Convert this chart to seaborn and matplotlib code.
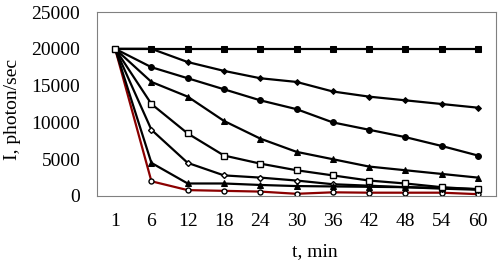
import matplotlib
matplotlib.use("Agg")
import matplotlib.pyplot as plt
import seaborn as sns
import pandas as pd

# время, мин (категории оси X)
t_labels = ["1", "6", "12", "18", "24", "30", "36", "42", "48", "54", "60"]

s_ctrl = [20000, 20000, 20000, 20000, 20000, 20000, 20000, 20000, 20000, 20000, 20000]
s_diam = [20000, 20000, 18200, 17000, 16000, 15500, 14200, 13500, 13000, 12500, 12000]
s_circ = [20000, 17500, 16000, 14500, 13000, 11800, 10000, 9000, 8000, 6800, 5500]
s_tri = [20000, 15500, 13500, 10200, 7800, 6000, 5000, 4000, 3500, 3000, 2500]
s_osq = [20000, 12500, 8500, 5500, 4400, 3500, 2800, 2100, 1700, 1200, 900]
s_odm = [20000, 9000, 4500, 2800, 2500, 2100, 1600, 1400, 1200, 1000, 850]
s_stri = [20000, 4500, 1700, 1700, 1500, 1350, 1300, 1250, 1200, 1100, 950]
s_red = [20000, 2000, 800, 700, 600, 300, 500, 450, 450, 450, 250]

sns.set_theme(style="white")
plt.rcParams['font.family'] = ['Liberation Serif', 'DejaVu Serif']

fig = plt.figure(figsize=(5, 2.62), dpi=100)
ax = fig.add_axes([97 / 500, 66 / 262, 399 / 500, 184 / 262])

# порядок отрисовки: красная линия снизу, открытые квадраты сверху
series = [
    (s_red, dict(color="#8b0000", marker="o", markersize=3.6, markerfacecolor="white",
                 markeredgecolor="black", markeredgewidth=1.0)),
    (s_ctrl, dict(color="black", marker="s", markersize=4.2, markerfacecolor="black",
                  markeredgecolor="black")),
    (s_diam, dict(color="black", marker="D", markersize=3.0, markerfacecolor="black",
                  markeredgecolor="black")),
    (s_circ, dict(color="black", marker="o", markersize=4.2, markerfacecolor="black",
                  markeredgecolor="black")),
    (s_tri, dict(color="black", marker="^", markersize=4.6, markerfacecolor="black",
                 markeredgecolor="black")),
    (s_odm, dict(color="black", marker="D", markersize=3.0, markerfacecolor="white",
                 markeredgecolor="black", markeredgewidth=1.0)),
    (s_stri, dict(color="black", marker="^", markersize=4.0, markerfacecolor="black",
                  markeredgecolor="black")),
    (s_osq, dict(color="black", marker="s", markersize=4.4, markerfacecolor="white",
                 markeredgecolor="black", markeredgewidth=1.0)),
]

for vals, style in series:
    df = pd.DataFrame({"t": t_labels, "I": vals})
    sns.lineplot(x="t", y="I", data=df, ax=ax, linewidth=1.6, sort=False, **style)

ax.set_xlim(-0.5, len(t_labels) - 0.5)
ax.set_ylim(0, 25000)
ax.set_yticks(range(0, 25001, 5000))

ax.set_xticks(range(len(t_labels)))
ax.set_xticklabels(t_labels)
ax.set_xticks([i - 0.5 for i in range(len(t_labels) + 1)], minor=True)
ax.tick_params(axis="x", which="major", length=0, labelsize=14, pad=12, colors="black")
ax.tick_params(axis="x", which="minor", length=9, direction="inout", color="#808080", width=0.8)
ax.tick_params(axis="y", which="major", length=0, labelsize=14, pad=12, colors="black")

for sp in ax.spines.values():
    sp.set_color("#808080")
    sp.set_linewidth(0.8)

ax.set_xlabel("t, min", fontsize=14, color="black")
ax.xaxis.set_label_coords((315 - 97) / 399, -0.255)
ax.set_ylabel("I, photon/sec", fontsize=14, color="black")
ax.yaxis.set_label_coords(-0.19, 0.47)
ax.grid(False)

fig.savefig("out.png", dpi=100)
